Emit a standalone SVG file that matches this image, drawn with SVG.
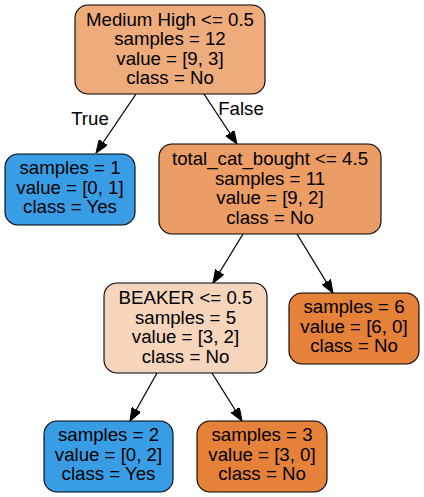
<svg xmlns="http://www.w3.org/2000/svg" width="424" height="497" viewBox="0 0 424 497">
<style>
  .box { stroke: #000000; stroke-width: 1.1; }
  .t { font-family: "Liberation Sans", Arial, sans-serif; font-size: 18.67px; fill: #000000; text-anchor: middle; }
  .edge { stroke: #000000; stroke-width: 1.3; fill: none; marker-end: url(#arrow); }
</style>
<defs>
  <marker id="arrow" viewBox="0 0 13 10" refX="13" refY="5" markerWidth="13" markerHeight="10" markerUnits="userSpaceOnUse" orient="auto">
    <path d="M0,0 L13,5 L0,10 z" fill="#000000" stroke="#000000" stroke-width="1"/>
  </marker>
</defs>
<rect width="424" height="497" fill="#ffffff"/>
<g id="connectors">
  <line class="edge" x1="136" y1="94" x2="96" y2="153"/>
  <line class="edge" x1="204" y1="94" x2="237" y2="144"/>
  <line class="edge" x1="243" y1="234" x2="213" y2="283"/>
  <line class="edge" x1="297" y1="234" x2="333" y2="293"/>
  <line class="edge" x1="157" y1="373" x2="130" y2="421"/>
  <line class="edge" x1="212" y1="373" x2="242" y2="421"/>
  <text class="t" x="90" y="125">True</text>
  <text class="t" x="241" y="115">False</text>
</g>
<g id="node0">
  <rect class="box" x="75" y="5" width="190" height="89" rx="13" ry="13" fill="#eeab7b"/>
  <text class="t" x="170" y="25.5">Medium High &lt;= 0.5</text>
  <text class="t" x="170" y="45">samples = 12</text>
  <text class="t" x="170" y="64.5">value = [9, 3]</text>
  <text class="t" x="170" y="84">class = No</text>
</g>
<g id="node1">
  <rect class="box" x="5" y="154" width="130" height="71" rx="13" ry="13" fill="#399de5"/>
  <text class="t" x="70" y="174">samples = 1</text>
  <text class="t" x="70" y="193.5">value = [0, 1]</text>
  <text class="t" x="70" y="213">class = Yes</text>
</g>
<g id="node2">
  <rect class="box" x="159" y="144" width="222" height="90" rx="13" ry="13" fill="#eb9d65"/>
  <text class="t" x="270" y="165">total_cat_bought &lt;= 4.5</text>
  <text class="t" x="270" y="184.5">samples = 11</text>
  <text class="t" x="270" y="204">value = [9, 2]</text>
  <text class="t" x="270" y="223.5">class = No</text>
</g>
<g id="node3">
  <rect class="box" x="104" y="283" width="163" height="90" rx="13" ry="13" fill="#f6d5bd"/>
  <text class="t" x="185.5" y="304">BEAKER &lt;= 0.5</text>
  <text class="t" x="185.5" y="323.5">samples = 5</text>
  <text class="t" x="185.5" y="343">value = [3, 2]</text>
  <text class="t" x="185.5" y="362.5">class = No</text>
</g>
<g id="node4">
  <rect class="box" x="289" y="293" width="130" height="71" rx="13" ry="13" fill="#e58139"/>
  <text class="t" x="354" y="313">samples = 6</text>
  <text class="t" x="354" y="332.5">value = [6, 0]</text>
  <text class="t" x="354" y="352">class = No</text>
</g>
<g id="node5">
  <rect class="box" x="44" y="421" width="129" height="71" rx="13" ry="13" fill="#399de5"/>
  <text class="t" x="108.5" y="441">samples = 2</text>
  <text class="t" x="108.5" y="460.5">value = [0, 2]</text>
  <text class="t" x="108.5" y="480">class = Yes</text>
</g>
<g id="node6">
  <rect class="box" x="197" y="421" width="130" height="71" rx="13" ry="13" fill="#e58139"/>
  <text class="t" x="262" y="441">samples = 3</text>
  <text class="t" x="262" y="460.5">value = [3, 0]</text>
  <text class="t" x="262" y="480">class = No</text>
</g>
</svg>
